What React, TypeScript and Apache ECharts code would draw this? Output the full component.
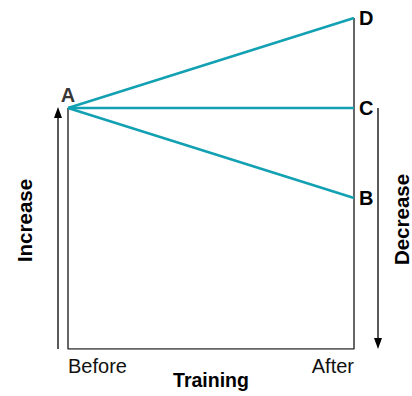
import React, { useEffect, useRef } from "react";
import * as echarts from "echarts";

const categories = ["Before", "After"];
const pointA = 72.8;
const outcomes = [
  { name: "D", value: 100 },
  { name: "C", value: 72.8 },
  { name: "B", value: 45.6 },
];
const yLabelLeft = "Increase";
const yLabelRight = "Decrease";
const xLabel = "Training";

const TEAL = "#12a1b2";
const FONT = "'Liberation Sans', Arial, Helvetica, sans-serif";

export default function App() {
  const ref = useRef<HTMLDivElement>(null);
  useEffect(() => {
    const chart = echarts.init(ref.current!, null, { renderer: "svg" });
    const labelStyle = { fontFamily: FONT, fontWeight: "bold" as const, fontSize: 20, color: "#000" };
    const series: any[] = [
      {
        type: "line",
        name: "frame",
        data: [
          [categories[0], pointA],
          [categories[0], 0],
          [categories[1], 0],
          [categories[1], outcomes[0].value],
        ],
        symbol: "none",
        lineStyle: { color: "#333", width: 1.5 },
        z: 1,
      },
    ];
    outcomes.forEach((o) => {
      series.push({
        type: "line",
        name: o.name,
        data: [
          [categories[0], pointA],
          [categories[1], o.value],
        ],
        symbol: "none",
        lineStyle: { color: TEAL, width: 2.5 },
        endLabel: {
          show: true,
          distance: 5,
          formatter: o.name,
          ...labelStyle,
        },
        z: 2,
      });
    });
    series.push({
      type: "scatter",
      data: [[categories[0], pointA]],
      symbolSize: 0,
      label: { show: true, position: "top", offset: [0, -1], distance: 2, formatter: "A", ...labelStyle },
    });
    const nameStyle = { fontFamily: FONT, fontWeight: "bold" as const, fontSize: 20.5, color: "#000" };
    chart.setOption({
      animation: false,
      grid: { left: 68, right: 58, top: 18, bottom: 47, containLabel: false, outerBoundsMode: "none" },
      xAxis: {
        type: "category",
        data: categories,
        boundaryGap: false,
        axisLine: { show: false },
        axisTick: { show: false },
        splitLine: { show: false },
        axisLabel: {
          fontFamily: FONT,
          fontSize: 20,
          color: "#111",
          margin: 7,
          alignMinLabel: "left",
          alignMaxLabel: "right",
        },
        name: xLabel,
        nameLocation: "middle",
        nameGap: 21,
        nameMoveOverlap: false,
        nameTextStyle: { ...nameStyle, fontSize: 19.5 },
      },
      yAxis: [
        {
          type: "value",
          min: 0,
          max: 100,
          axisLine: { show: false },
          axisTick: { show: false },
          axisLabel: { show: false },
          splitLine: { show: false },
          name: yLabelLeft,
          nameLocation: "middle",
          nameRotate: 90,
          nameGap: 33,
          nameMoveOverlap: false,
          nameTextStyle: { ...nameStyle, padding: [0, 74, 0, 0] },
        },
        {
          type: "value",
          position: "right",
          min: 0,
          max: 100,
          axisLine: { show: false },
          axisTick: { show: false },
          axisLabel: { show: false },
          splitLine: { show: false },
          name: yLabelRight,
          nameLocation: "middle",
          nameRotate: 90,
          nameGap: 37,
          nameMoveOverlap: false,
          nameTextStyle: { ...nameStyle, padding: [0, 72, 0, 0] },
        },
      ],
      graphic: [
        { type: "line", shape: { x1: 58, y1: 349, x2: 58, y2: 116 }, style: { stroke: "#000", lineWidth: 1.3 } },
        { type: "polygon", shape: { points: [[58, 107], [54, 118], [62, 118]] }, style: { fill: "#000" } },
        { type: "line", shape: { x1: 378, y1: 108, x2: 378, y2: 340 }, style: { stroke: "#000", lineWidth: 1.3 } },
        { type: "polygon", shape: { points: [[378, 349], [374, 338], [382, 338]] }, style: { fill: "#000" } },
      ],
      series,
    });
    return () => chart.dispose();
  }, []);
  return <div ref={ref} style={{ width: 412, height: 396, position: "absolute", left: 0, top: 0 }} />;
}
